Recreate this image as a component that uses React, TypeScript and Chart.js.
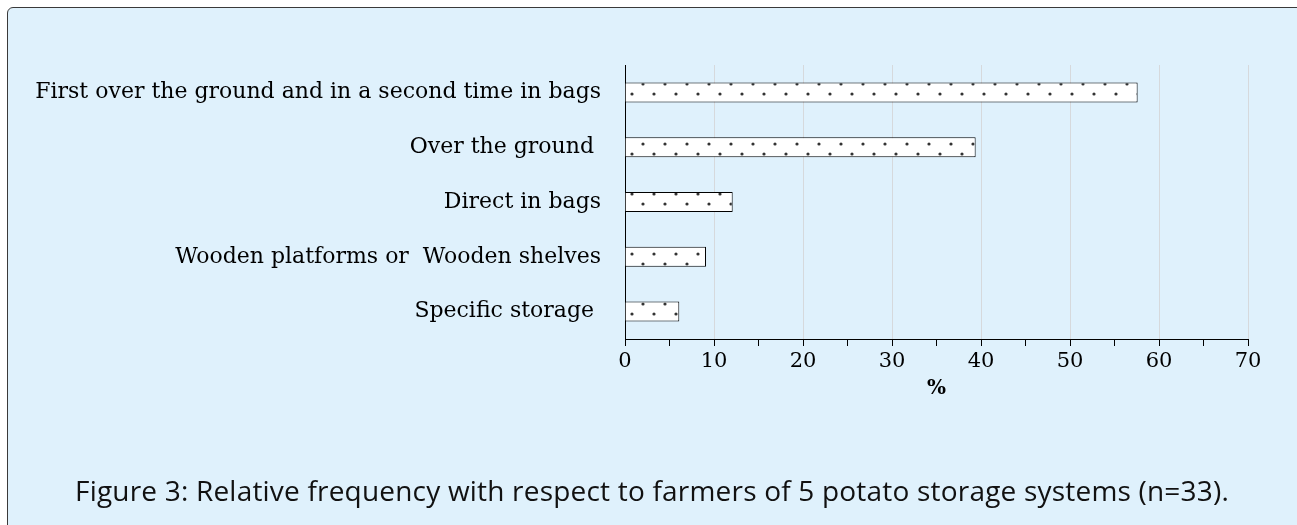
import React, { useEffect, useRef } from "react";
import { Chart, registerables } from "chart.js";

Chart.register(...registerables);

const categories = [
  "First over the ground and in a second time in bags",
  "Over the ground ",
  "Direct in bags",
  "Wooden platforms or  Wooden shelves",
  "Specific storage ",
];
const percentValues = [57.6, 39.4, 12.1, 9.1, 6.1];
const xMin = 0;
const xMax = 70;
const xStep = 5;
const xTitle = "%";
const caption =
  "Figure 3: Relative frequency with respect to farmers of 5 potato storage systems (n=33).";

function makePattern(): CanvasPattern | string {
  const c = document.createElement("canvas");
  c.width = 22;
  c.height = 20;
  const g = c.getContext("2d");
  if (!g) return "#ffffff";
  g.fillStyle = "#ffffff";
  g.fillRect(0, 0, 22, 20);
  g.fillStyle = "#333333";
  g.beginPath();
  g.arc(5, 4, 1.6, 0, Math.PI * 2);
  g.fill();
  g.beginPath();
  g.arc(16, 14, 1.6, 0, Math.PI * 2);
  g.fill();
  const p = g.createPattern(c, "repeat");
  return p || "#ffffff";
}

export default function App() {
  const ref = useRef<HTMLCanvasElement | null>(null);

  useEffect(() => {
    if (!ref.current) return;
    const serif = "'DejaVu Serif', serif";
    const chart = new Chart(ref.current, {
      type: "bar",
      data: {
        labels: categories,
        datasets: [
          {
            data: percentValues,
            backgroundColor: makePattern() as any,
            borderColor: "#000000",
            borderWidth: 1,
            borderSkipped: "left",
            barPercentage: 0.365,
            categoryPercentage: 1,
          },
        ],
      },
      options: {
        indexAxis: "y",
        animation: false,
        responsive: false,
        maintainAspectRatio: false,
        layout: { padding: { left: 0, right: 49, top: 65, bottom: 124 } },
        plugins: {
          legend: { display: false },
          tooltip: { enabled: false },
          title: { display: false },
        },
        scales: {
          x: {
            type: "linear",
            min: xMin,
            max: xMax,
            afterFit: (scale: any) => {
              scale.height = 62;
            },
            ticks: {
              stepSize: xStep,
              color: "#000000",
              padding: 3,
              font: { family: serif, size: 21 },
              callback: (v: any) => (Number(v) % 10 === 0 ? String(v) : ""),
            },
            grid: {
              display: true,
              drawOnChartArea: true,
              drawTicks: true,
              tickLength: 7,
              tickColor: "#000000",
              color: (ctx: any) =>
                ctx.tick && ctx.tick.value % 10 === 0 && ctx.tick.value !== 0
                  ? "#d6d9dc"
                  : "rgba(0,0,0,0)",
              lineWidth: 1,
            },
            border: { display: true, color: "#000000", width: 1 },
            title: {
              display: true,
              text: xTitle,
              color: "#000000",
              font: { family: serif, size: 20, weight: "bold" },
              padding: { top: 0, bottom: 0 },
            },
          },
          y: {
            type: "category",
            ticks: {
              color: "#000000",
              padding: 24,
              font: { family: serif, size: 22 },
            },
            grid: { display: true, drawTicks: false, color: "rgba(0,0,0,0)" },
            border: { display: true, color: "#000000", width: 1 },
            afterFit: (scale: any) => {
              scale.width = 625;
            },
          },
        },
      },
    });
    return () => chart.destroy();
  }, []);

  return (
    <div>
      <div
        style={{
          position: "fixed",
          left: 7,
          top: 7,
          width: 1320,
          height: 560,
          border: "1px solid #3a3a3a",
          borderRadius: 6,
          background: "#dff1fc",
        }}
      />
      <canvas
        ref={ref}
        width={1297}
        height={525}
        style={{ position: "fixed", left: 0, top: 0, width: 1297, height: 525 }}
      />
      <div
        style={{
          position: "fixed",
          left: 7,
          width: 1290,
          top: 473,
          textAlign: "center",
          fontFamily: "'Open Sans', sans-serif",
          fontSize: 28,
          letterSpacing: "0.2px",
          color: "#111111",
          lineHeight: "34px",
          whiteSpace: "nowrap",
        }}
      >
        {caption}
      </div>
    </div>
  );
}
